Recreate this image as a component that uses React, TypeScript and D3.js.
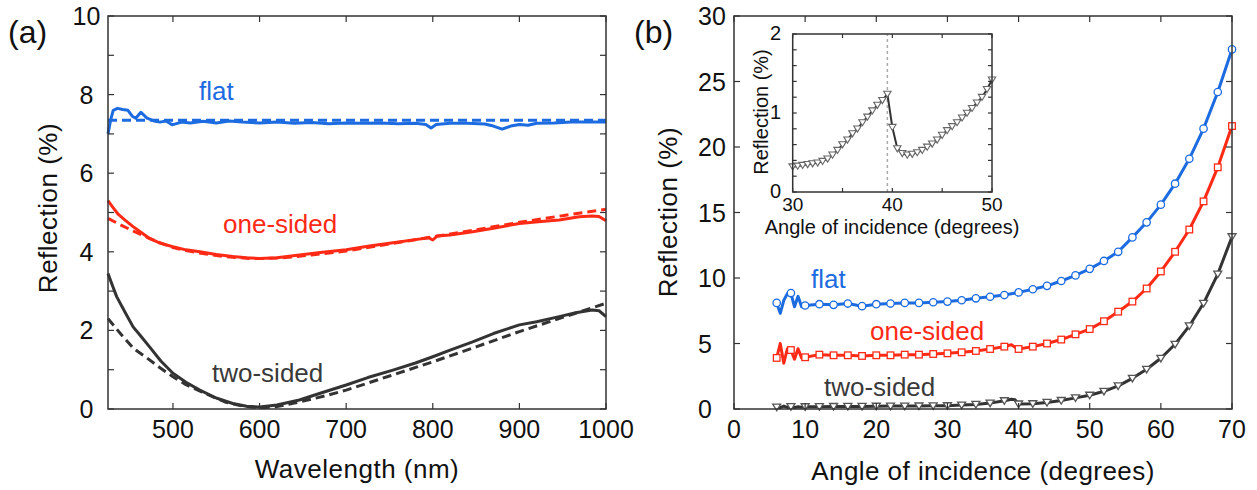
import { useEffect, useRef } from "react";
import * as d3 from "d3";

// ---------- panel (a): reflection vs wavelength ----------
const flatWl = [425, 428, 431, 436, 442, 448, 453, 457, 463, 470, 478, 485, 492, 499, 510, 520, 535, 550, 565, 580, 600, 620, 640, 660, 680, 700, 720, 740, 760, 780, 792, 798, 804, 820, 840, 860, 870, 880, 890, 900, 910, 920, 940, 960, 980, 1000];
const flatR = [7.0, 7.35, 7.6, 7.65, 7.62, 7.6, 7.45, 7.4, 7.55, 7.4, 7.33, 7.3, 7.33, 7.23, 7.3, 7.28, 7.32, 7.28, 7.33, 7.3, 7.28, 7.3, 7.27, 7.29, 7.26, 7.28, 7.27, 7.28, 7.26, 7.27, 7.24, 7.15, 7.24, 7.27, 7.27, 7.25, 7.2, 7.12, 7.2, 7.24, 7.22, 7.27, 7.28, 7.3, 7.3, 7.3];

const oneWl = [425, 430, 437, 445, 454, 463, 473, 485, 500, 515, 531, 550, 569, 585, 600, 620, 646, 670, 700, 725, 754, 780, 795, 800, 805, 820, 846, 870, 900, 925, 946, 969, 984, 992, 1000];
const oneR = [5.3, 5.15, 4.95, 4.8, 4.64, 4.5, 4.34, 4.22, 4.13, 4.05, 4.0, 3.93, 3.88, 3.85, 3.83, 3.85, 3.92, 3.98, 4.05, 4.14, 4.23, 4.31, 4.36, 4.3, 4.4, 4.43, 4.51, 4.6, 4.72, 4.77, 4.81, 4.89, 4.91, 4.9, 4.79];

const twoWl = [425, 430, 435, 445, 454, 463, 473, 486, 500, 515, 531, 550, 569, 585, 600, 620, 646, 670, 700, 725, 754, 780, 800, 820, 846, 870, 900, 920, 946, 965, 984, 992, 1000];
const twoR = [3.45, 3.15, 2.86, 2.45, 2.09, 1.85, 1.58, 1.22, 0.91, 0.68, 0.48, 0.28, 0.14, 0.07, 0.05, 0.1, 0.23, 0.4, 0.61, 0.8, 0.99, 1.17, 1.33, 1.5, 1.71, 1.92, 2.14, 2.22, 2.35, 2.45, 2.52, 2.5, 2.35];

// dashed fits
const flatFitWl = [425, 1000];
const flatFitR = [7.35, 7.35];
const fitWl = [425, 440, 455, 470, 485, 500, 515, 530, 545, 560, 575, 590, 600, 620, 640, 660, 680, 700, 750, 800, 850, 900, 950, 1000];
const oneFitR = [4.85, 4.68, 4.52, 4.37, 4.23, 4.11, 4.03, 3.97, 3.92, 3.88, 3.85, 3.83, 3.83, 3.84, 3.87, 3.92, 3.97, 4.02, 4.2, 4.38, 4.56, 4.75, 4.92, 5.08];
const twoFitR = [2.3, 1.9, 1.53, 1.3, 1.05, 0.82, 0.62, 0.47, 0.32, 0.18, 0.1, 0.05, 0.03, 0.06, 0.15, 0.25, 0.36, 0.48, 0.84, 1.2, 1.58, 1.97, 2.33, 2.69];

const wlTicks = [500, 600, 700, 800, 900, 1000];
const reflTicksA = [0, 1, 2, 3, 4, 5, 6, 7, 8, 9, 10];
const reflLabelsA = [0, 2, 4, 6, 8, 10];

// ---------- panel (b): reflection vs angle ----------
const angles = [6, 6.5, 7, 7.5, 8, 8.5, 9, 9.5, 10, 12, 14, 16, 18, 20, 22, 24, 26, 28, 30, 32, 34, 36, 38, 39, 39.5, 40, 42, 44, 46, 48, 50, 52, 54, 56, 58, 60, 62, 64, 66, 68, 70];
const flatB = [8.1, 7.3, 8.3, 8.8, 8.85, 7.8, 8.6, 7.8, 7.9, 8.0, 7.95, 8.05, 7.85, 8.0, 8.05, 8.1, 8.1, 8.15, 8.2, 8.3, 8.45, 8.57, 8.7, 8.8, 8.85, 8.9, 9.14, 9.4, 9.77, 10.2, 10.7, 11.3, 12.0, 13.1, 14.25, 15.6, 17.2, 19.1, 21.4, 24.2, 27.45];
const oneB = [3.9, 5.0, 3.5, 4.6, 4.5, 3.8, 4.6, 3.9, 3.95, 4.15, 4.1, 4.1, 4.05, 4.1, 4.1, 4.15, 4.15, 4.2, 4.25, 4.33, 4.43, 4.58, 4.76, 4.9, 4.72, 4.58, 4.76, 5.0, 5.3, 5.7, 6.1, 6.7, 7.43, 8.2, 9.2, 10.5, 12.0, 13.7, 15.85, 18.45, 21.6];
const twoB = [0.15, 0.1, 0.22, 0.12, 0.18, 0.12, 0.17, 0.14, 0.17, 0.18, 0.19, 0.2, 0.2, 0.21, 0.22, 0.22, 0.23, 0.24, 0.25, 0.3, 0.35, 0.45, 0.63, 0.75, 0.7, 0.38, 0.4, 0.5, 0.65, 0.85, 1.05, 1.35, 1.76, 2.34, 3.03, 3.87, 4.94, 6.34, 8.07, 10.3, 13.15];

const angTicks = [0, 10, 20, 30, 40, 50, 60, 70];
const reflTicksB = [0, 5, 10, 15, 20, 25, 30];

// inset: two-sided around the critical angle
const insetAngles = [30, 30.5, 31, 31.5, 32, 32.5, 33, 33.5, 34, 34.5, 35, 35.5, 36, 36.5, 37, 37.5, 38, 38.5, 39, 39.5, 40, 40.5, 41, 41.5, 42, 42.5, 43, 43.5, 44, 44.5, 45, 45.5, 46, 46.5, 47, 47.5, 48, 48.5, 49, 49.5, 50];
const insetR = [0.32, 0.33, 0.34, 0.35, 0.36, 0.37, 0.39, 0.42, 0.47, 0.53, 0.6, 0.66, 0.74, 0.8, 0.88, 0.95, 1.03, 1.1, 1.16, 1.24, 0.82, 0.55, 0.49, 0.47, 0.48, 0.5, 0.53, 0.57, 0.61, 0.66, 0.72, 0.78, 0.83, 0.88, 0.94, 1.0, 1.06, 1.13, 1.2, 1.3, 1.42];
const criticalAngle = 39.5;
const insetXTicks = [30, 35, 40, 45, 50];
const insetXLabels = [30, 40, 50];
const insetYTicks = [0, 0.2, 0.4, 0.6, 0.8, 1, 1.2, 1.4, 1.6, 1.8, 2];
const insetYLabels = [0, 1, 2];

const BLUE = "#1c6be0";
const RED = "#ff2a16";
const DARK = "#333333";
const AXIS = "#333";
const FONT = "'Liberation Sans', Arial, Helvetica, sans-serif";

type Sel = d3.Selection<SVGGElement, unknown, null, undefined>;

function frame(g: Sel, x: d3.ScaleLinear<number, number>, y: d3.ScaleLinear<number, number>, xt: number[], yt: number[], tick: number) {
  const [x0, x1] = x.range();
  const [y0, y1] = y.range();
  g.append("rect").attr("x", x0).attr("y", y1).attr("width", x1 - x0).attr("height", y0 - y1)
    .attr("fill", "none").attr("stroke", AXIS).attr("stroke-width", 1.5);
  const t = g.append("g").attr("stroke", AXIS).attr("stroke-width", 1.2);
  xt.forEach(v => {
    t.append("line").attr("x1", x(v)).attr("x2", x(v)).attr("y1", y0).attr("y2", y0 - tick);
    t.append("line").attr("x1", x(v)).attr("x2", x(v)).attr("y1", y1).attr("y2", y1 + tick);
  });
  yt.forEach(v => {
    t.append("line").attr("x1", x0).attr("x2", x0 + tick).attr("y1", y(v)).attr("y2", y(v));
    t.append("line").attr("x1", x1).attr("x2", x1 - tick).attr("y1", y(v)).attr("y2", y(v));
  });
}

function text(g: Sel, x: number, y: number, s: string, size: number, fill = "#111", anchor = "start", rotate = false, ls = 0) {
  const el = g.append("text").attr("x", x).attr("y", y).text(s)
    .attr("font-family", FONT).attr("font-size", size).attr("fill", fill).attr("text-anchor", anchor);
  if (ls) el.attr("letter-spacing", ls);
  if (rotate) el.attr("transform", `rotate(-90,${x},${y})`);
  return el;
}

export default function App() {
  const svgRef = useRef<SVGSVGElement>(null);

  useEffect(() => {
    const svg = d3.select(svgRef.current);
    svg.selectAll("*").remove();
    const root = svg.append("g") as unknown as Sel;

    // ===== panel (a) =====
    const xa = d3.scaleLinear().domain([425, 1000]).range([108, 606]);
    const ya = d3.scaleLinear().domain([0, 10]).range([409, 16]);
    const ga = root.append("g");
    const lineA = (xs: number[], ys: number[]) =>
      d3.line<number>().x((_, i) => xa(xs[i])).y(d => ya(d))(ys);

    const seriesA = [
      { xs: fitWl, ys: twoFitR, c: DARK, dash: "9,5" },
      { xs: twoWl, ys: twoR, c: DARK, dash: null },
      { xs: fitWl, ys: oneFitR, c: RED, dash: "9,5" },
      { xs: oneWl, ys: oneR, c: RED, dash: null },
      { xs: flatFitWl, ys: flatFitR, c: BLUE, dash: "9,5" },
      { xs: flatWl, ys: flatR, c: BLUE, dash: null },
    ];
    seriesA.forEach(s => {
      const p = ga.append("path").attr("d", lineA(s.xs, s.ys)).attr("fill", "none")
        .attr("stroke", s.c).attr("stroke-width", 3).attr("stroke-linejoin", "round");
      if (s.dash) p.attr("stroke-dasharray", s.dash);
    });
    frame(ga, xa, ya, wlTicks, reflTicksA, 6);
    wlTicks.forEach(v => text(ga, xa(v), 438, String(v), 25, "#111", "middle"));
    reflLabelsA.forEach(v => text(ga, 86.5, ya(v) + 9, String(v), 25, "#111", "middle"));
    text(ga, 357, 478, "Wavelength (nm)", 26, "#111", "middle", false, 0.5);
    text(ga, 57, 208, "Reflection (%)", 26, "#111", "middle", true, 0.5);
    text(ga, 8, 43, "(a)", 32);
    text(ga, 199, 100, "flat", 26, BLUE);
    text(ga, 223, 233, "one-sided", 26, RED);
    text(ga, 212, 382, "two-sided", 26, "#3a3a3a");

    // ===== panel (b) =====
    const xb = d3.scaleLinear().domain([0, 70]).range([734, 1232]);
    const yb = d3.scaleLinear().domain([0, 30]).range([409, 16]);
    const gb = root.append("g");
    const lineB = d3.line<number>().x((_, i) => xb(angles[i])).y(d => yb(d));
    const marked = angles.map((a, i) => ({ a, i })).filter(d => d.a % 2 === 0);

    const seriesB = [
      { ys: twoB, c: DARK, m: "tri" },
      { ys: oneB, c: RED, m: "sq" },
      { ys: flatB, c: BLUE, m: "circ" },
    ];
    seriesB.forEach(s => {
      gb.append("path").attr("d", lineB(s.ys)).attr("fill", "none")
        .attr("stroke", s.c).attr("stroke-width", 3).attr("stroke-linejoin", "round");
      const mg = gb.append("g").attr("fill", "#fff").attr("stroke", s.m === "tri" ? "#555" : s.c).attr("stroke-width", 1.3);
      marked.forEach(({ a, i }) => {
        const cx = xb(a), cy = yb(s.ys[i]);
        if (s.m === "circ") mg.append("circle").attr("cx", cx).attr("cy", cy).attr("r", 3.7);
        else if (s.m === "sq") mg.append("rect").attr("x", cx - 3.3).attr("y", cy - 3.3).attr("width", 6.6).attr("height", 6.6);
        else mg.append("path").attr("d", `M${cx},${cy + 3.6}L${cx - 4},${cy - 3}L${cx + 4},${cy - 3}Z`);
      });
    });
    frame(gb, xb, yb, angTicks, reflTicksB, 6);
    angTicks.forEach(v => text(gb, xb(v), 438, String(v), 25, "#111", "middle"));
    reflTicksB.forEach(v => text(gb, 698, yb(v) + 9, String(v), 25, "#111", "start"));
    text(gb, 983, 480, "Angle of incidence (degrees)", 26, "#111", "middle", false, 0.45);
    text(gb, 677, 212, "Reflection (%)", 26, "#111", "middle", true, 0.5);
    text(gb, 634, 43, "(b)", 32);
    text(gb, 811, 288, "flat", 26, BLUE);
    text(gb, 870, 340, "one-sided", 26, RED);
    text(gb, 824, 396, "two-sided", 26, "#3a3a3a");

    // ===== inset =====
    const xi = d3.scaleLinear().domain([30, 50]).range([792.7, 992]);
    const yi = d3.scaleLinear().domain([0, 2]).range([192, 34]);
    const gi = root.append("g");
    gi.append("rect").attr("x", 792.7).attr("y", 34).attr("width", 992 - 792.7).attr("height", 158).attr("fill", "#fff");
    gi.append("line").attr("x1", xi(criticalAngle)).attr("x2", xi(criticalAngle)).attr("y1", yi(0)).attr("y2", yi(2))
      .attr("stroke", "#aaa").attr("stroke-width", 1.5).attr("stroke-dasharray", "3,3");
    const lineI = d3.line<number>().x((_, i) => xi(insetAngles[i])).y(d => yi(d));
    gi.append("path").attr("d", lineI(insetR)).attr("fill", "none").attr("stroke", DARK).attr("stroke-width", 2);
    const ti = gi.append("g").attr("fill", "#fff").attr("stroke", "#666").attr("stroke-width", 1.1);
    insetR.forEach((v, i) => {
      const cx = xi(insetAngles[i]), cy = yi(v);
      ti.append("path").attr("d", `M${cx},${cy + 3.3}L${cx - 3.7},${cy - 2.8}L${cx + 3.7},${cy - 2.8}Z`);
    });
    frame(gi, xi, yi, insetXTicks, insetYTicks, 4);
    insetXLabels.forEach(v => text(gi, xi(v), 211, String(v), 19, "#111", "middle"));
    insetYLabels.forEach(v => text(gi, 781, yi(v) + 6, String(v), 20, "#111", "end"));
    text(gi, 892, 234, "Angle of incidence (degrees)", 20, "#111", "middle");
    text(gi, 768, 112, "Reflection (%)", 20, "#111", "middle", true);
  }, []);

  return (
    <svg ref={svgRef} width={1257} height={490}
      style={{ position: "absolute", left: 0, top: 0, background: "#fff" }} />
  );
}
